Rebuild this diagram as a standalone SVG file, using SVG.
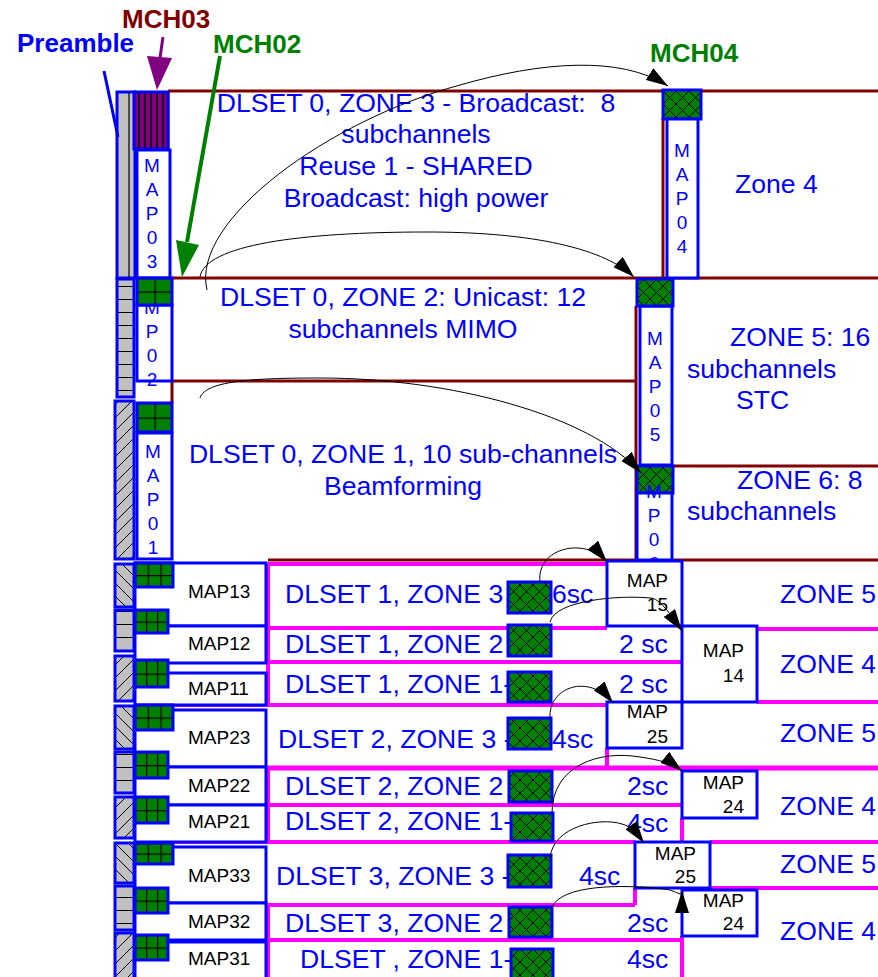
<svg xmlns="http://www.w3.org/2000/svg" width="878" height="977" viewBox="0 0 878 977">
<defs>
<style>
text{font-family:"Liberation Sans",Arial,Helvetica,sans-serif}
.t{font-size:26.6px;fill:#0000ff}
.c{text-anchor:middle}
.v{font-size:19px;fill:#0000ff;text-anchor:middle}
.m{font-size:19px;fill:#000}
.e{text-anchor:end}
.b{font-size:26px;font-weight:bold}
.dr{fill:none;stroke:#800000;stroke-width:3}
.mg{fill:none;stroke:#ff00ff;stroke-width:4}
.bx{fill:#fff;stroke:#0000ff;stroke-width:3}
.xh{fill:url(#xh);stroke:#0000ff;stroke-width:3}
.g3{fill:url(#g3);stroke:#0000ff;stroke-width:3}
.g2{fill:url(#g2);stroke:#0000ff;stroke-width:3}
.pr{stroke:#0000ff;stroke-width:3}
.cn{fill:none;stroke:#000;stroke-width:1;marker-end:url(#ah)}
</style>
<clipPath id="clip06"><rect x="630" y="460" width="50" height="99"/></clipPath>
<pattern id="xh" width="13" height="13" patternUnits="userSpaceOnUse"><rect width="13" height="13" fill="#008000"/><path d="M0,0L13,13M13,0L0,13" stroke="#000" stroke-width="1"/></pattern>
<pattern id="g3" width="0.3333" height="0.5" patternUnits="objectBoundingBox"><rect width="100" height="100" fill="#008000"/><path d="M0,0V100M0,0H100" stroke="#000" stroke-width="2.4"/></pattern>
<pattern id="g2" width="0.5" height="0.5" patternUnits="objectBoundingBox"><rect width="100" height="100" fill="#008000"/><path d="M0,0V100M0,0H100" stroke="#000" stroke-width="2.4"/></pattern>
<pattern id="hs" width="20" height="13" patternUnits="userSpaceOnUse"><rect width="20" height="13" fill="#c0c0c0"/><path d="M0,0.5H20" stroke="#000" stroke-width="1"/></pattern>
<pattern id="fh" width="13" height="13" patternUnits="userSpaceOnUse"><rect width="13" height="13" fill="#c0c0c0"/><path d="M0,13L13,0M-2,2L2,-2M11,15L15,11" stroke="#000" stroke-width="1"/></pattern>
<pattern id="bh" width="13" height="13" patternUnits="userSpaceOnUse"><rect width="13" height="13" fill="#c0c0c0"/><path d="M0,0L13,13M11,-2L15,2M-2,11L2,15" stroke="#000" stroke-width="1"/></pattern>
<pattern id="vs" width="6" height="10" patternUnits="userSpaceOnUse"><rect width="6" height="10" fill="#800080"/><path d="M1,0V10" stroke="#000" stroke-width="1.5"/></pattern>
<marker id="ah" viewBox="0 0 22 14" refX="22" refY="7" markerWidth="22" markerHeight="14" markerUnits="userSpaceOnUse" orient="auto"><path d="M0,0L22,7L0,14z" fill="#000"/></marker>
</defs>
<rect width="878" height="977" fill="#fff"/>

<g id="dlset0-zones">
<path class="dr" d="M168,91H878M168,91V150M663,118V278M172,278H878M172,381H636M172,381V403M636,306V560M673,466H878M268,560H878"/>
</g>

<g id="dlset123-zones">
<path class="mg" d="M268,564H607M268,564V705M268,628H607M757,629H878M268,662H682M173,705H607M757,702H878M607,748V768M268,805H682M268,768V842M682,818V842M173,842H635M710,842H878M635,888V905M710,888H878M268,905H635M268,905V977M268,940H682M682,936V977"/>
<path d="M268,768H878" stroke="#ff00ff" stroke-width="5"/>
</g>

<g id="preamble">
<rect x="117" y="92" width="18" height="186" fill="#c0c0c0" class="pr"/>
<path d="M129,93V278" stroke="#000" stroke-width="1.2"/>
<rect x="117" y="279" width="17" height="118" fill="url(#hs)" class="pr"/>
<rect x="115" y="401" width="19" height="158" fill="url(#fh)" class="pr"/>
<rect x="115" y="564" width="19" height="43" fill="url(#bh)" class="pr"/>
<rect x="115" y="610" width="19" height="41" fill="url(#hs)" class="pr"/>
<rect x="115" y="656" width="19" height="45" fill="url(#fh)" class="pr"/>
<rect x="115" y="706" width="19" height="43" fill="url(#bh)" class="pr"/>
<rect x="115" y="752" width="19" height="41" fill="url(#hs)" class="pr"/>
<rect x="115" y="797" width="19" height="41" fill="url(#fh)" class="pr"/>
<rect x="115" y="843" width="19" height="40" fill="url(#bh)" class="pr"/>
<rect x="115" y="886" width="19" height="44" fill="url(#hs)" class="pr"/>
<rect x="115" y="933" width="19" height="46" fill="url(#fh)" class="pr"/>
</g>

<g id="mch03"><rect x="134" y="92" width="34" height="57" fill="url(#vs)" class="pr"/></g>
<g id="map03"><rect class="bx" x="137" y="150" width="33" height="128"/>
<text class="v"><tspan x="152" y="172">M</tspan><tspan x="152" y="196">A</tspan><tspan x="152" y="220">P</tspan><tspan x="152" y="244">0</tspan><tspan x="152" y="268">3</tspan></text></g>
<g id="map02"><rect class="bx" x="137" y="305" width="35" height="76"/>
<text class="v"><tspan x="152" y="314">M</tspan><tspan x="152" y="338">P</tspan><tspan x="152" y="362">0</tspan><tspan x="152" y="386">2</tspan></text></g>
<g id="mch02"><rect class="g2" x="137" y="278" width="35" height="27"/></g>
<g id="mch01"><rect class="g2" x="137" y="403" width="35" height="29"/></g>
<g id="map01"><rect class="bx" x="137" y="433" width="35" height="126"/>
<text class="v"><tspan x="153" y="458">M</tspan><tspan x="153" y="482">A</tspan><tspan x="153" y="506">P</tspan><tspan x="153" y="530">0</tspan><tspan x="153" y="554">1</tspan></text></g>
<g id="mch04"><rect class="xh" x="663" y="90" width="38" height="29"/></g>
<g id="map04"><rect class="bx" x="667" y="119" width="31" height="159"/>
<text class="v"><tspan x="682" y="157">M</tspan><tspan x="682" y="181">A</tspan><tspan x="682" y="205">P</tspan><tspan x="682" y="229">0</tspan><tspan x="682" y="253">4</tspan></text></g>
<g id="map05"><rect class="bx" x="640" y="306" width="32" height="159"/>
<text class="v"><tspan x="655" y="345">M</tspan><tspan x="655" y="369">A</tspan><tspan x="655" y="393">P</tspan><tspan x="655" y="417">0</tspan><tspan x="655" y="441">5</tspan></text></g>
<g id="mch05"><rect class="xh" x="637" y="279" width="36" height="27"/></g>
<g id="mch06"><rect class="xh" x="637" y="466" width="36" height="27"/></g>
<g id="map06"><rect class="bx" x="637" y="493" width="35" height="67"/>
<text class="v" clip-path="url(#clip06)"><tspan x="654" y="498">M</tspan><tspan x="654" y="522">P</tspan><tspan x="654" y="546">0</tspan><tspan x="654" y="570">6</tspan></text></g>

<g id="dlset0-text">
<text class="t c"><tspan x="416" y="112">DLSET 0, ZONE 3 - Broadcast:&#160; 8</tspan><tspan x="416" y="143">subchannels</tspan><tspan x="416" y="175">Reuse 1 - SHARED</tspan><tspan x="416" y="207">Broadcast: high power</tspan></text>
<text class="t" x="735" y="193">Zone 4</text>
<text class="t c"><tspan x="403" y="306">DLSET 0, ZONE 2: Unicast: 12</tspan><tspan x="403" y="338">subchannels MIMO</tspan></text>
<text class="t c"><tspan x="403" y="463">DLSET 0, ZONE 1, 10 sub-channels</tspan><tspan x="403" y="495">Beamforming</tspan></text>
<text class="t"><tspan x="730" y="346">ZONE 5: 16</tspan><tspan x="687" y="378">subchannels</tspan><tspan x="736" y="409">STC</tspan></text>
<text class="t"><tspan x="737" y="489">ZONE 6: 8</tspan><tspan x="687" y="520">subchannels</tspan></text>
</g>

<g id="left-maps">
<rect class="bx" x="135" y="563" width="131" height="63"/>
<rect class="bx" x="135" y="626" width="131" height="37"/>
<rect class="bx" x="135" y="673" width="131" height="32"/>
<rect class="bx" x="135" y="710" width="131" height="57"/>
<rect class="bx" x="135" y="767" width="131" height="38"/>
<rect class="bx" x="135" y="805" width="131" height="37"/>
<rect class="bx" x="135" y="847" width="131" height="56"/>
<rect class="bx" x="135" y="903" width="131" height="37"/>
<rect class="bx" x="135" y="942" width="131" height="40"/>
<rect class="g3" x="135" y="563" width="38" height="24"/>
<rect class="g3" x="135" y="610" width="33" height="23"/>
<rect class="g3" x="135" y="660" width="33" height="27"/>
<rect class="g3" x="135" y="705" width="38" height="25"/>
<rect class="g3" x="135" y="752" width="33" height="26"/>
<rect class="g3" x="135" y="797" width="33" height="26"/>
<rect class="g3" x="135" y="843" width="38" height="21"/>
<rect class="g3" x="135" y="888" width="33" height="25"/>
<rect class="g3" x="135" y="935" width="33" height="25"/>
<text class="m" x="188" y="598">MAP13</text>
<text class="m" x="188" y="650">MAP12</text>
<text class="m" x="188" y="695">MAP11</text>
<text class="m" x="188" y="744">MAP23</text>
<text class="m" x="188" y="792">MAP22</text>
<text class="m" x="188" y="828">MAP21</text>
<text class="m" x="188" y="882">MAP33</text>
<text class="m" x="188" y="928">MAP32</text>
<text class="m" x="188" y="965">MAP31</text>
</g>

<g id="dlset-rows-text">
<text class="t" x="285" y="603">DLSET 1, ZONE 3</text>
<text class="t" x="285" y="653">DLSET 1, ZONE 2</text>
<text class="t" x="285" y="693">DLSET 1, ZONE 1-</text>
<text class="t" x="278" y="748">DLSET 2, ZONE 3 -</text>
<text class="t" x="285" y="795">DLSET 2, ZONE 2</text>
<text class="t" x="285" y="830">DLSET 2, ZONE 1-</text>
<text class="t" x="276" y="885">DLSET 3, ZONE 3 -</text>
<text class="t" x="285" y="932">DLSET 3, ZONE 2</text>
<text class="t" x="300" y="968">DLSET , ZONE 1-</text>
<text class="t" x="552" y="603">6sc</text>
<text class="t" x="619" y="653">2 sc</text>
<text class="t" x="619" y="693">2 sc</text>
<text class="t" x="552" y="748">4sc</text>
<text class="t" x="627" y="795">2sc</text>
<text class="t" x="627" y="832">4sc</text>
<text class="t" x="579" y="885">4sc</text>
<text class="t" x="627" y="932">2sc</text>
<text class="t" x="627" y="968">4sc</text>
<text class="t" x="780" y="603">ZONE 5</text>
<text class="t" x="780" y="673">ZONE 4</text>
<text class="t" x="780" y="742">ZONE 5</text>
<text class="t" x="780" y="815">ZONE 4</text>
<text class="t" x="780" y="873">ZONE 5</text>
<text class="t" x="780" y="940">ZONE 4</text>
</g>

<g id="mch-boxes">
<rect class="xh" x="508" y="582" width="43" height="31"/>
<rect class="xh" x="508" y="625" width="43" height="31"/>
<rect class="xh" x="508" y="672" width="43" height="30"/>
<rect class="xh" x="508" y="718" width="43" height="31"/>
<rect class="xh" x="509" y="771" width="43" height="31"/>
<rect class="xh" x="511" y="813" width="42" height="28"/>
<rect class="xh" x="508" y="855" width="43" height="32"/>
<rect class="xh" x="509" y="907" width="43" height="30"/>
<rect class="xh" x="511" y="949" width="42" height="30"/>
</g>

<g id="right-maps">
<rect class="bx" x="607" y="561" width="75" height="65"/>
<text class="m e"><tspan x="668" y="587">MAP</tspan><tspan x="668" y="611">15</tspan></text>
<rect class="bx" x="682" y="626" width="75" height="76"/>
<text class="m e"><tspan x="744" y="657">MAP</tspan><tspan x="744" y="682">14</tspan></text>
<rect class="bx" x="607" y="702" width="75" height="46"/>
<text class="m e"><tspan x="668" y="718">MAP</tspan><tspan x="668" y="743">25</tspan></text>
<rect class="bx" x="682" y="771" width="75" height="47"/>
<text class="m e"><tspan x="744" y="789">MAP</tspan><tspan x="744" y="813">24</tspan></text>
<rect class="bx" x="635" y="842" width="75" height="46"/>
<text class="m e"><tspan x="696" y="860">MAP</tspan><tspan x="696" y="883">25</tspan></text>
<rect class="bx" x="682" y="890" width="75" height="46"/>
<text class="m e"><tspan x="744" y="907">MAP</tspan><tspan x="744" y="930">24</tspan></text>
</g>

<g id="connectors">
<path class="cn" d="M207,290C190,220 330,120 460,85C540,62 620,55 668,86"/>
<path class="cn" d="M200,277C205,245 300,232 427,232C520,232 600,245 634,277"/>
<path class="cn" d="M200,398C205,380 260,378 320,378C450,378 590,415 641,473"/>
<path class="cn" d="M540,582C536,548 585,536 607,562"/>
<path class="cn" d="M550,622C555,600 620,595 650,598C660,598 670,614 682,631"/>
<path class="cn" d="M550,718C548,688 588,672 613,703"/>
<path class="cn" d="M552,813C552,765 600,750 640,757C660,760 672,763 682,771"/>
<path class="cn" d="M550,858C553,826 600,817 622,824C630,826 636,832 644,843"/>
<path class="cn" d="M552,907C562,885 620,884 664,889C676,890 682,898 682,891"/>
</g>

<g id="labels">
<text class="b" x="122" y="28" fill="#800000">MCH03</text>
<text class="b" x="17" y="52" fill="#0000ff">Preamble</text>
<text class="b" x="213" y="53" fill="#008000">MCH02</text>
<text class="b" x="650" y="62" fill="#008000">MCH04</text>
<path d="M163,37L160,58" stroke="#800080" stroke-width="3"/>
<path d="M147,56L172,58L157,90z" fill="#800080"/>
<path d="M220,56L187,242" stroke="#008000" stroke-width="4"/>
<path d="M176,240L199,245L182,277z" fill="#008000"/>
<path d="M104,71L118,137" stroke="#0000ff" stroke-width="3"/>
</g>
</svg>
